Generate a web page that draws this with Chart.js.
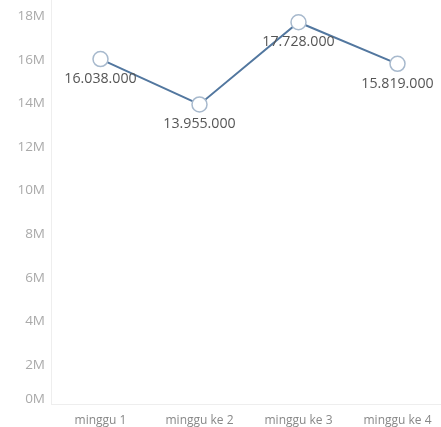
<!DOCTYPE html>
<html>
<head>
<meta charset="utf-8">
<script src="https://cdn.jsdelivr.net/npm/chart.js@4"></script>
<style>
html,body{margin:0;padding:0;background:#fff;overflow:hidden;width:441px;height:427px;}
canvas{display:block;}
</style>
</head>
<body>
<canvas id="c" width="447" height="427" style="width:447px;height:427px"></canvas>
<script>
const categories = ["minggu 1", "minggu ke 2", "minggu ke 3", "minggu ke 4"];
const values = [16038000, 13955000, 17728000, 15819000];
const valueLabels = ["16.038.000", "13.955.000", "17.728.000", "15.819.000"];
const yTickValues = [0, 2000000, 4000000, 6000000, 8000000, 10000000, 12000000, 14000000, 16000000, 18000000];
const yTickLabels = ["0M", "2M", "4M", "6M", "8M", "10M", "12M", "14M", "16M", "18M"];

const labelPlugin = {
  id: 'valueLabels',
  afterDatasetsDraw(chart) {
    const ctx = chart.ctx;
    const meta = chart.getDatasetMeta(0);
    ctx.save();
    ctx.font = '14.2px "Open Sans", sans-serif';
    ctx.fillStyle = '#555';
    ctx.textAlign = 'center';
    ctx.textBaseline = 'middle';
    meta.data.forEach((pt, i) => {
      ctx.fillText(valueLabels[i], pt.x, pt.y + 20);
    });
    ctx.restore();
  }
};

new Chart(document.getElementById('c'), {
  type: 'line',
  data: {
    labels: categories,
    datasets: [{
      data: values,
      borderColor: '#52779f',
      borderWidth: 2,
      pointRadius: 7.5,
      pointHoverRadius: 7.5,
      pointBackgroundColor: '#ffffff',
      pointBorderColor: '#a7b9cd',
      pointBorderWidth: 1.5,
      tension: 0,
      clip: false
    }]
  },
  options: {
    responsive: false,
    maintainAspectRatio: false,
    devicePixelRatio: 1,
    animation: false,
    events: [],
    layout: { padding: 0, autoPadding: false },
    plugins: { legend: { display: false }, tooltip: { enabled: false } },
    scales: {
      x: {
        offset: true,
        grid: { display: false, drawTicks: false },
        border: { display: true, color: '#eeeeee' },
        ticks: { color: '#888', font: { family: '"Open Sans", sans-serif', size: 12 }, padding: 9, maxRotation: 0, autoSkip: false },
        afterFit(scale) { scale.height = 23; scale.paddingLeft = 0; scale.paddingRight = 0; }
      },
      y: {
        min: 200000,
        max: 18750000,
        grid: { display: false, drawTicks: false },
        border: { display: true, color: '#eeeeee' },
        afterBuildTicks(scale) {
          // keep the bottom label inside the pane, as in the original
          const clampMin = scale.min + (scale.max - scale.min) * 5 / 404;
          scale.ticks = yTickValues.map(v => ({ value: Math.max(v, clampMin) }));
        },
        ticks: {
          color: '#aaa',
          font: { family: '"Open Sans", sans-serif', size: 13.5 },
          padding: 6,
          callback: (v, i) => yTickLabels[i]
        },
        afterFit(scale) { scale.width = 51; scale.paddingTop = 0; scale.paddingBottom = 0; }
      }
    }
  },
  plugins: [labelPlugin]
});
</script>
</body>
</html>
